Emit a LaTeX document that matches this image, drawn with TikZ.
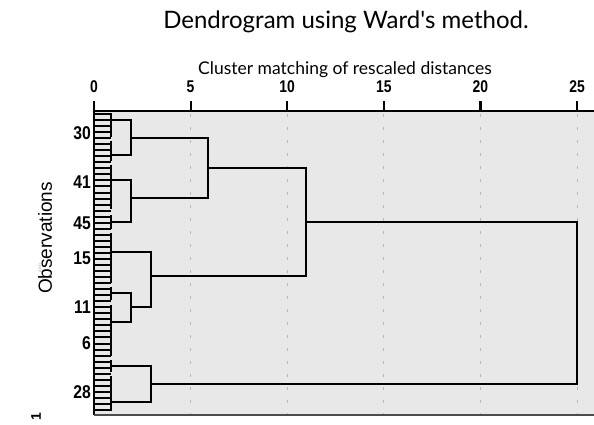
\documentclass[tikz,border=0pt]{standalone}
\usepackage{fontspec}
\setmainfont{Liberation Sans}
\newfontfamily\headfont{Lato}
\begin{document}
\begin{tikzpicture}[x=1pt,y=-1pt,
  link/.style={line width=2.7pt, line cap=rect, line join=miter},
  stub/.style={line width=2pt},
  gridline/.style={gray!55, line width=1pt, dash pattern=on 3pt off 10pt},
  axisline/.style={line width=2.2pt},
  ticklab/.style={font=\fontsize{17}{17}\selectfont\bfseries, anchor=base, inner sep=0pt},
  obslab/.style={font=\fontsize{18.5}{18.5}\selectfont\bfseries, anchor=east, inner sep=0pt}]
\useasboundingbox (0,0) rectangle (594,425);
\fill[white] (0,0) rectangle (594,425);

% headings
\node[font=\headfont\fontsize{24}{24}\selectfont] (title) at (346,22) {Dendrogram using Ward\textquotesingle s method.};
\node[font=\headfont\fontsize{17.5}{17.5}\selectfont] (subtitle) at (345,70) {Cluster matching of rescaled distances};

% plot area and dashed grid
\fill[gray!18] (94,111) rectangle (594,415);
\foreach \d in {5,10,15,20,25}
  \draw[gridline] ({94+19.32*\d},114) -- ({94+19.32*\d},414);

% axis with ticks and labels
\draw[axisline] (94,111) -- (594,111);
\draw[axisline] (94,101) -- (94,415);
\draw[line width=1.6pt, gray!60!black] (94,415) -- (594,415);
\foreach \d in {0,5,10,15,20,25} {
  \draw[axisline] ({94+19.32*\d},111) -- ({94+19.32*\d},101);
  \node[ticklab] at ({94+19.32*\d},93) {\scalebox{0.82}[1]{\d}};
}

% leaf stubs
\foreach \k in {0,...,49}
  \draw[stub] (94,{114+6.04*\k}) -- (111,{114+6.04*\k});

% first-level joins of the leaves
\foreach \a/\b in {114/136,142/160,166/208,216/228,234/282,288/299,306/355,361/371,377/410}
  \draw[link] (111,\a) -- (111,\b);

% merge points
\coordinate (m1) at (131,138);
\coordinate (m2) at (131,198);
\coordinate (m3) at (208,168);
\coordinate (m4) at (131,307);
\coordinate (m5) at (151,276);
\coordinate (m6) at (306,222);
\coordinate (m7) at (151,384);

% links of the tree
\draw[link] (111,120) -| (m1 |- 0,155) -- (111,155);
\draw[link] (111,180) -| (m2 |- 0,222) -- (111,222);
\draw[link] (m1) -| (m3 |- m2) -- (m2);
\draw[link] (111,293) -| (m4 |- 0,322) -- (111,322);
\draw[link] (111,252) -| (m5 |- m4) -- (m4);
\draw[link] (m3) -| (m6 |- m5) -- (m5);
\draw[link] (111,366) -| (m7 |- 0,402) -- (111,402);
\draw[link] (m6) -| (577,384) -- (m7);

% observation labels
\foreach \y/\t in {133/30,182/41,223/45,258/15,307/11,343/6,392/28}
  \node[obslab] at (91,\y) {\scalebox{0.85}[1]{\t}};

% side texts
\node[rotate=90, font=\fontsize{19}{19}\selectfont] (ylab) at (45,238) {Observations};
\node[rotate=90, font=\fontsize{4}{4}\selectfont, text=gray!70] (mark) at (40,268) {AND};
\node[rotate=90, font=\fontsize{14}{14}\selectfont\bfseries, inner sep=0pt] (one) at (36,417) {1};
\end{tikzpicture}
\end{document}
